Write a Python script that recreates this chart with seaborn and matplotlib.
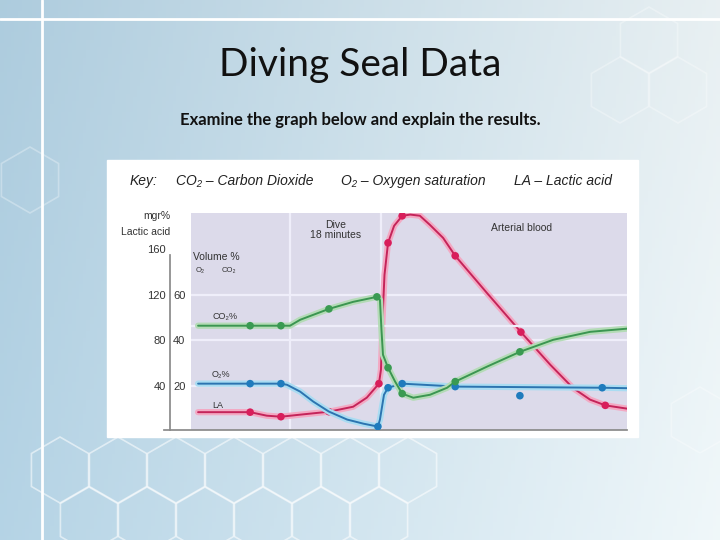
import numpy as np
import pandas as pd
import matplotlib.pyplot as plt
from matplotlib.patches import Rectangle, RegularPolygon
import seaborn as sns

sns.set_theme(style="white")
plt.rcParams['font.family'] = ['Liberation Sans', 'DejaVu Sans']

# time in minutes from the start of the dive (dive lasts 18 minutes)
dive_start, dive_end = 0, 18

# CO2 volume %
co2_t = [-18.2, -7.9, -1.8, 0.0, 2.0, 7.7, 12.5, 17.2, 17.8, 18.1, 18.4, 19.4, 20.8,
         22.2, 24.4, 27.7, 31.1, 32.7, 39.0, 45.5, 52.1, 59.4, 66.7]
co2_v = [46.4, 46.4, 46.4, 46.4, 49.0, 53.8, 56.9, 59.1, 57.8, 44.6, 33.6, 27.9, 21.8,
         16.5, 14.7, 16.0, 19.1, 21.8, 28.4, 34.9, 40.2, 43.7, 45.1]
co2_mark_t = [-7.9, -1.8, 7.7, 17.2, 19.4, 22.2, 32.7, 45.5]
co2_mark_v = [46.4, 46.4, 53.8, 59.1, 27.9, 16.5, 21.8, 34.9]

# O2 volume %
o2_t = [-18.2, -7.9, -1.8, -0.6, 2.0, 4.6, 7.7, 11.3, 14.5, 17.4, 17.8, 18.6, 19.4,
        22.2, 29.7, 32.7, 61.8, 66.7]
o2_v = [20.9, 20.9, 20.9, 20.4, 17.4, 13.0, 8.6, 5.1, 3.3, 2.0, 5.1, 16.0, 19.1,
        20.9, 20.0, 19.6, 19.1, 18.9]
o2_mark_t = [-7.9, -1.8, 17.4, 19.4, 22.2, 32.7, 45.5, 61.8]
o2_mark_v = [20.9, 20.9, 2.0, 19.1, 20.9, 19.6, 15.6, 19.1]

# lactic acid mgr%
la_t = [-18.2, -7.9, -4.6, -1.8, 2.0, 7.7, 12.5, 15.2, 17.6, 18.0, 18.3, 18.7, 19.4,
        20.6, 22.2, 23.8, 25.7, 27.7, 30.3, 32.7, 39.0, 45.7, 51.5, 56.0, 59.4, 62.4, 66.7]
la_v = [16.7, 16.7, 13.6, 12.7, 14.5, 17.1, 21.5, 29.5, 41.8, 54.1, 98.0, 137.6, 165.7,
        180.7, 189.5, 190.6, 189.6, 181.5, 170.1, 154.3, 121.5, 87.2, 58.5, 38.0, 27.7, 22.7, 19.8]
la_mark_t = [-7.9, -1.8, 7.7, 17.6, 19.4, 22.2, 32.7, 45.7, 62.4]
la_mark_v = [16.7, 12.7, 17.1, 41.8, 165.7, 189.5, 154.3, 87.2, 22.7]

la_ticks = [40, 80, 120, 160]
vol_ticks = [20, 40, 60]

red, red_halo = "#c4245a", "#f3a9c3"
blue, blue_halo = "#2c74b0", "#aadcf2"
green, green_halo = "#3b9651", "#b4dbb6"
lavender = "#dcdaea"
grid_c = "#efeefa"

fig = plt.figure(figsize=(7.2, 5.4), dpi=100)

# slide background
bg = fig.add_axes([0, 0, 1, 1], zorder=0)
bg.set_xlim(0, 720)
bg.set_ylim(540, 0)
bg.axis('off')
gx = np.linspace(0, 1, 200)[None, :, None]
gy = np.linspace(0, 1, 150)[:, None, None]
c_left = np.array([0.68, 0.80, 0.87])
c_right = np.array([0.91, 0.94, 0.95])
grad = c_left * (1 - gx) + c_right * gx
grad = np.clip(grad + 0.03 * gy, 0, 1)
bg.imshow(grad, extent=[0, 720, 540, 0], aspect='auto')
for cx, cy, al in [(60, 470, 0.55), (118, 470, 0.55), (176, 470, 0.55), (234, 470, 0.55),
                   (292, 470, 0.55), (350, 470, 0.55), (408, 470, 0.55), (89, 520, 0.55),
                   (147, 520, 0.55), (205, 520, 0.55), (263, 520, 0.55), (321, 520, 0.55),
                   (379, 520, 0.55), (620, 90, 0.3), (678, 90, 0.3), (649, 40, 0.3),
                   (30, 180, 0.3), (700, 420, 0.3)]:
    bg.add_patch(RegularPolygon((cx, cy), 6, radius=33, orientation=0,
                                fill=False, ec='white', lw=1.2, alpha=al))
bg.plot([42, 42], [0, 540], color='white', lw=2)
bg.plot([0, 720], [19, 19], color='white', lw=2)
bg.add_patch(Rectangle((107, 160), 531, 277, color='white'))

fig.text(0.5, 1 - 76 / 540, "Diving Seal Data", ha='center', va='baseline',
         fontsize=28, family=['Lato', 'DejaVu Sans'], color='#111111')
fig.text(0.5, 1 - 125 / 540, "Examine the graph below and explain the results.",
         ha='center', va='baseline', fontsize=12, fontweight='bold',
         family=['Lato', 'DejaVu Sans'], color='#111111')
for px, s in [(130, "Key:"), (176, "CO\u2082 \u2013 Carbon Dioxide"),
              (341, "O\u2082 \u2013 Oxygen saturation"), (514, "LA \u2013 Lactic acid")]:
    fig.text(px / 720, 1 - 185 / 540, s, ha='left', va='baseline', fontsize=10,
             style='italic', color='#222222')

# chart
ax = fig.add_axes([191 / 720, 1 - 430 / 540, 436 / 720, 217 / 540], zorder=2)
ax.set_facecolor(lavender)
ax.set_xlim(-19.6, 66.7)
ax.set_ylim(1.0, 192.0)
ax2 = ax.twinx()
ax2.set_ylim(0.5, 96.0)

for v in [40, 80, 120]:
    ax.axhline(v, color=grid_c, lw=1.6, zorder=0)
ax2.axhline(co2_v[0], color=grid_c, lw=1.6, zorder=0)
for t in [dive_start, dive_end]:
    ax.axvline(t, color=grid_c, lw=1.6, zorder=0)

series = [
    (ax, la_t, la_v, la_mark_t, la_mark_v, red, red_halo, "#d81e5b"),
    (ax2, o2_t, o2_v, o2_mark_t, o2_mark_v, blue, blue_halo, "#1f7bbd"),
    (ax2, co2_t, co2_v, co2_mark_t, co2_mark_v, green, green_halo, "#3a9a52"),
]
for a, t, v, mt, mv, col, halo, mcol in series:
    df = pd.DataFrame({"t": t, "v": v})
    sns.lineplot(data=df, x="t", y="v", ax=a, sort=False, estimator=None,
                 color=halo, lw=4.5, solid_capstyle='round')
    sns.lineplot(data=df, x="t", y="v", ax=a, sort=False, estimator=None,
                 color=col, lw=1.4)
    dm = pd.DataFrame({"t": mt, "v": mv})
    sns.scatterplot(data=dm, x="t", y="v", ax=a, color=mcol, s=30,
                    marker='o', edgecolor='none', zorder=5)

for a in (ax, ax2):
    a.set_xlabel("")
    a.set_ylabel("")
    a.set_xticks([])
    for s in a.spines.values():
        s.set_visible(False)

ax.spines['bottom'].set_visible(True)
ax.spines['bottom'].set_color('#8a8a8a')
ax.spines['bottom'].set_bounds(-25.0, 66.7)
ax.spines['left'].set_visible(True)
ax.spines['left'].set_color('#8a8a8a')
ax.spines['left'].set_position(('outward', 15))
ax.spines['left'].set_bounds(1.0, 155)
ax.set_yticks(la_ticks)
ax.tick_params(axis='y', length=0, pad=3, labelsize=8, labelcolor='#333333')

ax2.yaxis.set_ticks_position('left')
ax2.set_yticks(vol_ticks)
ax2.tick_params(axis='y', left=False, right=False, labelleft=True, labelright=False,
                length=0, pad=4, labelsize=8, labelcolor='#333333')

tc = '#333333'
fig.text(170 / 720, 1 - 219 / 540, "mgr%", ha='right', va='baseline', fontsize=7.5, color=tc)
fig.text(170 / 720, 1 - 235 / 540, "Lactic acid", ha='right', va='baseline', fontsize=7.5, color=tc)
ax.text(-19.2, 153, "Volume %", fontsize=7.5, color=tc, va='center', ha='left')
ax.text(-18.6, 141, "O\u2082", fontsize=5.5, color=tc, va='center', ha='left')
ax.text(-13.6, 141, "CO\u2082", fontsize=5.5, color=tc, va='center', ha='left')
ax.text(-15.4, 101, "CO\u2082%", fontsize=6.5, color=tc, va='center', ha='left')
ax.text(-15.6, 50, "O\u2082%", fontsize=6.5, color=tc, va='center', ha='left')
ax.text(-15.4, 23, "LA", fontsize=6.5, color=tc, va='center', ha='left')
ax.text(9.1, 177, "Dive\n18 minutes", fontsize=7.5, color=tc, va='center', ha='center',
        linespacing=1.1)
ax.text(45.9, 179, "Arterial blood", fontsize=7.5, color=tc, va='center', ha='center')

fig.savefig("out.png", dpi=100)
